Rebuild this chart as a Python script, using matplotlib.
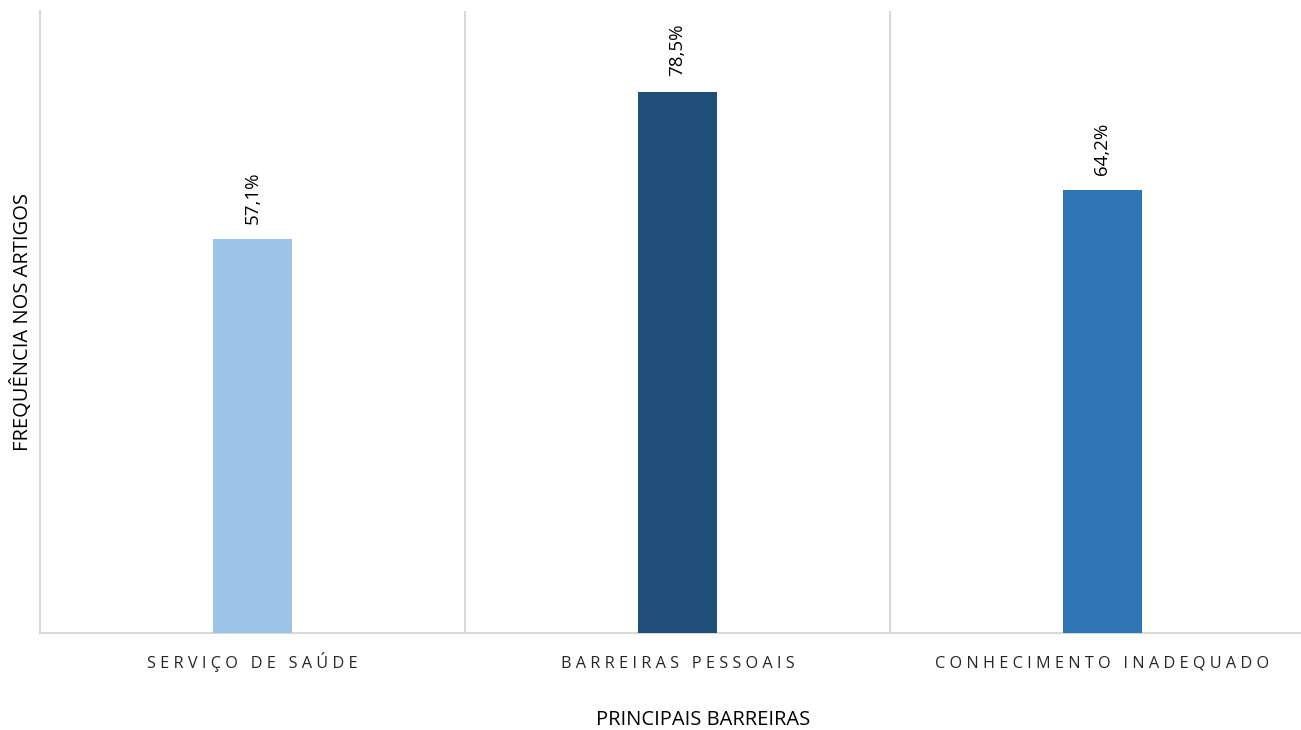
import matplotlib
matplotlib.use("Agg")
import matplotlib.pyplot as plt
import matplotlib.transforms as mtransforms
import numpy as np

plt.rcParams['font.family'] = ['Open Sans', 'DejaVu Sans']

categorias = ["SERVIÇO DE SAÚDE", "BARREIRAS PESSOAIS", "CONHECIMENTO INADEQUADO"]
valores = [57.1, 78.5, 64.2]
rotulos = ["57,1%", "78,5%", "64,2%"]
cores = ["#9DC3E6", "#1F4E79", "#2E75B6"]

def espacar(txt):
    # imita o espaçamento de caracteres do Excel
    return "   ".join(" ".join(p) for p in txt.split(" "))

fig = plt.figure(figsize=(13.01, 7.30), dpi=100)
W, H = 1301, 730
ax = fig.add_axes([40 / W, (H - 633) / H, 1275 / W, 622 / H])

x = np.arange(len(categorias))
ax.bar(x, valores, width=0.186, color=cores, zorder=3)

for xi, v, r in zip(x, valores, rotulos):
    ax.annotate(r, (xi, v), xytext=(0, 11), textcoords="offset points",
                rotation=90, ha="center", va="bottom", fontsize=13.5, color="#000000")

ax.set_xlim(-0.5, len(categorias) - 0.5)
ax.set_ylim(0, 90.2)

# linhas verticais entre as categorias
for b in np.arange(0.5, len(categorias) - 0.5, 1):
    ax.axvline(b, color="#D9D9D9", lw=1.5, zorder=1)

ax.set_xticks([])
ax.set_yticks([])

# rótulos das categorias alinhados pela linha de base
trans_rot = ax.get_xaxis_transform() + mtransforms.ScaledTranslation(0, -0.35, fig.dpi_scale_trans)
for xi, c in zip(x, categorias):
    ax.text(xi, 0, espacar(c), transform=trans_rot,
            ha="center", va="baseline", fontsize=11.7, color="#262626")

for s in ["top", "right"]:
    ax.spines[s].set_visible(False)
ax.spines["left"].set_color("#D9D9D9")
ax.spines["left"].set_linewidth(1.5)
ax.spines["bottom"].set_color("#D9D9D9")
ax.spines["bottom"].set_linewidth(1.5)

fig.text(22 / W, 1 - 322 / H, "FREQUÊNCIA NOS ARTIGOS", rotation=90,
         ha="center", va="center", fontsize=14.5, color="#000000")
fig.text(703 / W, 1 - 720 / H, "PRINCIPAIS BARREIRAS",
         ha="center", va="center", fontsize=14.5, color="#000000")

fig.savefig("out.png", dpi=100, facecolor="white")
